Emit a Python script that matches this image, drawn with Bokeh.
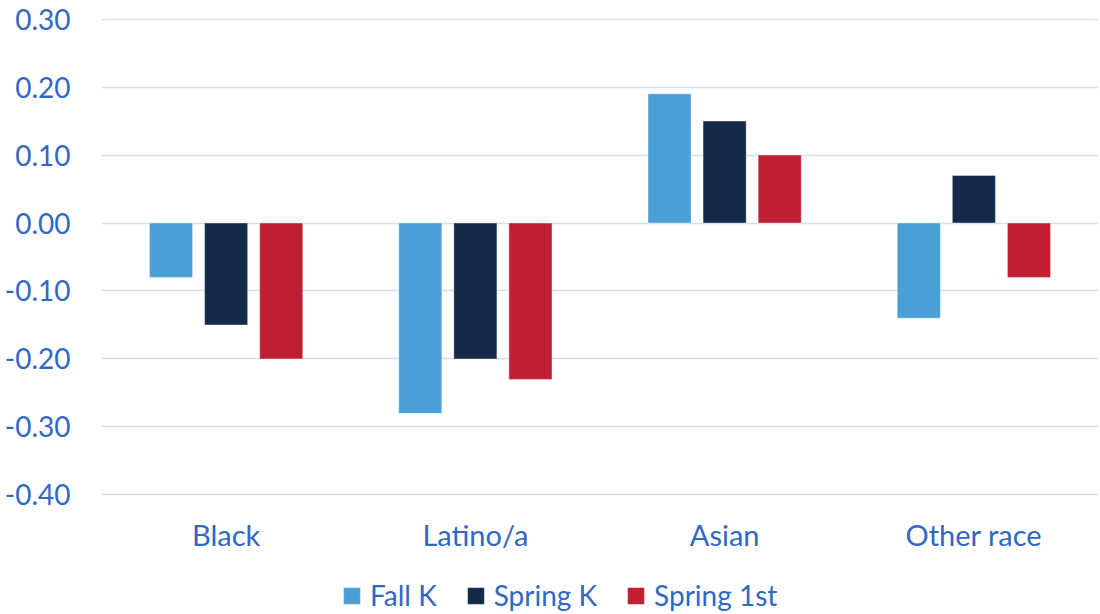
from bokeh.plotting import figure
from bokeh.models import ColumnDataSource, FactorRange, Range1d, Legend, LegendItem, FixedTicker, NumeralTickFormatter
from bokeh.core.properties import value
from bokeh.transform import dodge
from bokeh.embed import file_html
from bokeh.resources import INLINE

categories = ["Black", "Latino/a", "Asian", "Other race"]
series = ["Fall K", "Spring K", "Spring 1st"]
fall_k = [-0.08, -0.28, 0.19, -0.14]
spring_k = [-0.15, -0.20, 0.15, 0.07]
spring_1st = [-0.20, -0.23, 0.10, -0.08]
y_ticks = [-0.40, -0.30, -0.20, -0.10, 0.00, 0.10, 0.20, 0.30]
colors = ["#4b9fd7", "#152a4b", "#c01f33"]

TEXT = "#3068c2"
FONT = "Lato"

src = ColumnDataSource(dict(cat=categories, fall_k=fall_k, spring_k=spring_k, spring_1st=spring_1st))

Y_TOP = 0.3008
PX_PER_UNIT = 477 / 0.7016
FRAME_H = 596
y_start = Y_TOP - FRAME_H / PX_PER_UNIT

p = figure(x_range=FactorRange(*categories, range_padding=0), y_range=Range1d(y_start, Y_TOP),
           frame_width=997, frame_height=FRAME_H, min_border_left=101, min_border_top=18,
           min_border_right=2, min_border_bottom=0,
           output_backend="svg", toolbar_location=None)

renderers = []
for i, (col, name) in enumerate(zip(["fall_k", "spring_k", "spring_1st"], series)):
    r = p.vbar(x=dodge("cat", (i - 1) * 0.221, range=p.x_range), top=col, bottom=0, width=0.173,
               source=src, fill_color=colors[i], line_color="white", line_alpha=0.4, line_width=1)
    renderers.append(r)

# category labels below the -0.40 gridline
p.text(x="cat", y=min(y_ticks), text="cat", source=src, y_offset=40,
       text_align="center", text_baseline="middle", text_color=TEXT,
       text_font=value(FONT), text_font_size="29px")

p.outline_line_color = None
p.xgrid.grid_line_color = None
p.xaxis.visible = False
p.ygrid.grid_line_color = "#d3def1"
p.ygrid.grid_line_width = 1.5
p.yaxis.ticker = FixedTicker(ticks=y_ticks)
p.yaxis.formatter = NumeralTickFormatter(format="0.00")
p.yaxis.axis_line_color = None
p.yaxis.major_tick_line_color = None
p.yaxis.minor_tick_line_color = None
p.yaxis.major_label_text_color = TEXT
p.yaxis.major_label_text_font = FONT
p.yaxis.major_label_text_font_size = "28px"
p.yaxis.major_label_standoff = 25

legend = Legend(items=[LegendItem(label=s, renderers=[r]) for s, r in zip(series, renderers)],
                orientation="horizontal", location=(240, 2),
                label_text_color=TEXT, label_text_font=FONT, label_text_font_size="28px",
                glyph_width=21, glyph_height=21, label_standoff=8, spacing=28,
                label_height=28,
                border_line_color=None, background_fill_alpha=0, padding=0, margin=0)
p.add_layout(legend, "center")

open("out.html", "w").write(file_html(p, INLINE))
